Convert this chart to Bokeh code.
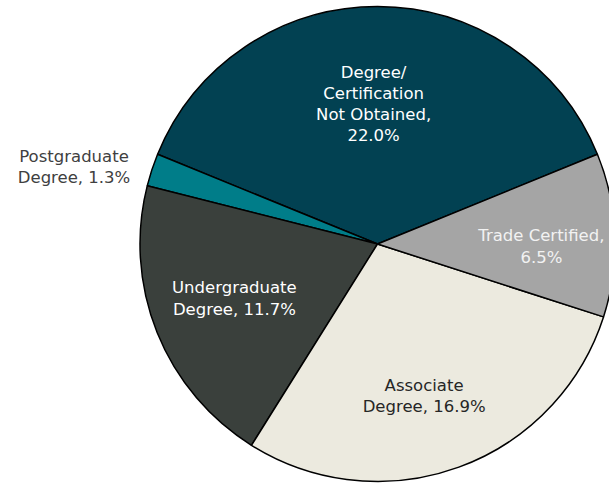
import math
from bokeh.plotting import figure
from bokeh.models import Range1d
from bokeh.core.properties import value
from bokeh.embed import file_html
from bokeh.resources import INLINE

# Data (counter-clockwise order, starting with the top slice)
categories = ["Degree/\nCertification\nNot Obtained", "Postgraduate\nDegree",
              "Undergraduate\nDegree", "Associate\nDegree", "Trade Certified"]
values = [22.0, 1.3, 11.7, 16.9, 6.5]
colors = ["#024152", "#007D89", "#3A403C", "#ECEADF", "#A5A5A5"]
text_colors = ["#FFFFFF", "#404040", "#FFFFFF", "#262626", "#F2F2F2"]
label_radius = [0.59, 1.318, 0.645, 0.67, 0.69]   # fraction of pie radius
label_shift = [1.6, 4.0, -1.0, -3.0, -3.0]         # degrees from slice middle

W, H = 609, 483
cx, cy, R = 377, H - 243.5, 237.5

p = figure(width=W, height=H, output_backend="svg", toolbar_location=None,
           x_range=Range1d(0, W), y_range=Range1d(0, H), min_border=0)
p.axis.visible = False
p.grid.visible = False
p.outline_line_color = None
p.background_fill_color = "white"
p.border_fill_color = "white"

total = sum(values)
start = math.pi / 2 - values[0] / total * math.pi
starts, ends, mids = [], [], []
a = start
for v in values:
    b = a + v / total * 2 * math.pi
    starts.append(a)
    ends.append(b)
    mids.append((a + b) / 2)
    a = b

p.wedge(x=[cx] * len(values), y=[cy] * len(values), radius=R,
        start_angle=starts, end_angle=ends, direction="anticlock",
        fill_color=colors, line_color="#000000", line_width=1.5)

labels = []
lx, ly = [], []
for cat, v, m, f, s in zip(categories, values, mids, label_radius, label_shift):
    sep = "\n" if "Obtained" in cat or cat == "Trade Certified" else " "
    labels.append(f"{cat},{sep}{v:.1f}%")
    ang = m + math.radians(s)
    lx.append(cx + f * R * math.cos(ang))
    ly.append(cy + f * R * math.sin(ang))

p.text(x=lx, y=ly, text=labels, text_color=text_colors,
       text_font=value("DejaVu Sans"), text_font_size="16.5px",
       text_align="center", text_baseline="middle", text_line_height=1.12)

open("out.html", "w").write(file_html(p, INLINE))
